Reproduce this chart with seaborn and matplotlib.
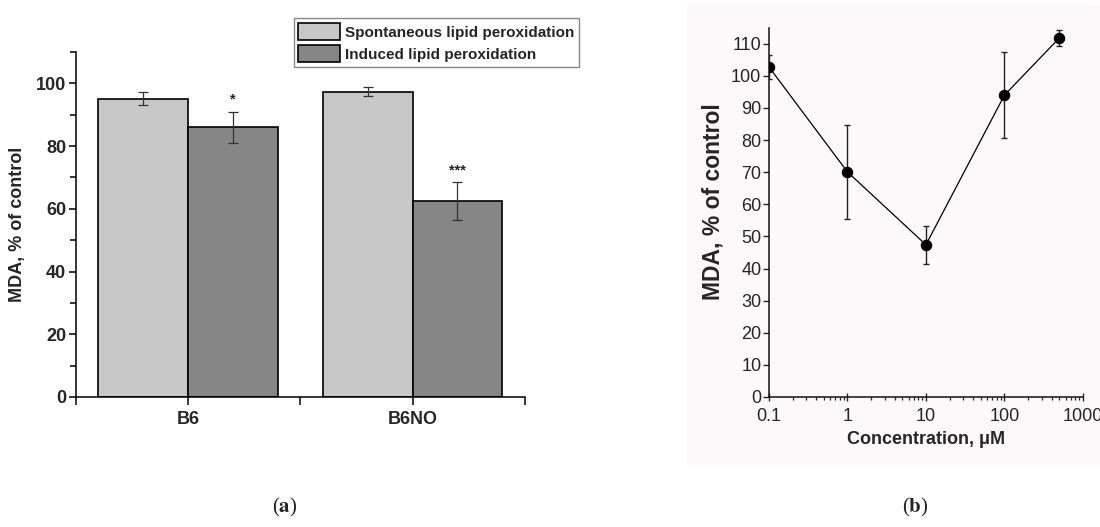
import matplotlib
matplotlib.use('Agg')
import matplotlib.pyplot as plt
from matplotlib.patches import Rectangle
from matplotlib.ticker import MultipleLocator, FixedLocator, LogLocator, NullFormatter
import seaborn as sns
import pandas as pd

# ---- data panel (a) ----
compounds = ['B6', 'B6NO']
conditions = ['Spontaneous lipid peroxidation', 'Induced lipid peroxidation']
spont_mean = [95.1, 97.4]
spont_err = [2.0, 1.3]
induced_mean = [86.0, 62.4]
induced_err = [5.0, 6.0]
signif = ['*', '***']

# ---- data panel (b) ----
conc = [0.1, 1, 10, 100, 500]
mda = [102.8, 70.1, 47.4, 94.0, 111.8]
mda_err = [3.8, 14.7, 6.0, 13.3, 2.5]
conc_ticks = [0.1, 1, 10, 100, 1000]
conc_labels = ['0.1', '1', '10', '100', '1000']

sns.set_theme(style='ticks')
plt.rcParams['font.family'] = ['Liberation Sans', 'DejaVu Sans']
plt.rcParams['mathtext.fontset'] = 'stix'

fig = plt.figure(figsize=(11, 5.27), dpi=100)
bg = '#fbf9f9'
fig.patches.append(Rectangle((0.6245, 0.1176), 0.3755, 0.873, transform=fig.transFigure,
                             facecolor=bg, edgecolor='none', zorder=-5))

# ================= panel (a) =================
ax1 = fig.add_axes([0.069, 0.2467, 0.408, 0.6546])
df = pd.DataFrame({
    'compound': compounds * 2,
    'condition': [conditions[0]] * len(compounds) + [conditions[1]] * len(compounds),
    'value': spont_mean + induced_mean,
})
sns.barplot(data=df, x='compound', y='value', hue='condition', order=compounds,
            hue_order=conditions, palette=['#c8c8c8', '#868686'], edgecolor='black',
            linewidth=1.2, errorbar=None, width=0.8, saturation=1, ax=ax1)

for cont, errs in zip(ax1.containers, [spont_err, induced_err]):
    for bar, e in zip(cont, errs):
        cx = bar.get_x() + bar.get_width() / 2
        h = bar.get_height()
        ax1.errorbar(cx, h, yerr=e, fmt='none', ecolor='#333333', elinewidth=0.9,
                     capsize=3.5, capthick=0.9, zorder=5)

for bar, e, s in zip(ax1.containers[1], induced_err, signif):
    cx = bar.get_x() + bar.get_width() / 2
    ax1.text(cx, bar.get_height() + e + 1.6, s, ha='center', va='bottom',
             fontsize=10.5, fontweight='bold', color='#222222')

ax1.set_xlim(-0.5, 1.5)
ax1.set_ylim(0, 110)
ax1.yaxis.set_major_locator(MultipleLocator(20))
ax1.yaxis.set_minor_locator(MultipleLocator(10))
ax1.xaxis.set_minor_locator(FixedLocator([-0.5, 0.5, 1.5]))
for sp in ['top', 'right']:
    ax1.spines[sp].set_visible(False)
for sp in ['left', 'bottom']:
    ax1.spines[sp].set_linewidth(1.1)
    ax1.spines[sp].set_color('black')
ax1.tick_params(axis='both', which='both', direction='out', width=1.1, color='black')
ax1.tick_params(axis='y', which='major', length=5, labelsize=13, pad=2)
ax1.tick_params(axis='y', which='minor', length=4)
ax1.tick_params(axis='x', which='both', length=6, labelsize=13, pad=4)
for lab in ax1.get_xticklabels() + ax1.get_yticklabels():
    lab.set_fontweight('bold')
ax1.set_xlabel('')
ax1.set_ylabel('MDA, % of control', fontsize=13, fontweight='bold', labelpad=7)

handles, labels = ax1.get_legend_handles_labels()
leg = ax1.legend(handles, labels, loc='upper left', bbox_to_anchor=(0.267, 0.9658),
                 bbox_transform=fig.transFigure, frameon=True, fancybox=False,
                 edgecolor='#888888', framealpha=1, prop={'weight': 'bold', 'size': 11},
                 handlelength=2.75, handleheight=1.4, borderpad=0.3, labelspacing=0.3,
                 handletextpad=0.3, borderaxespad=0)
leg.get_frame().set_linewidth(1.0)

# ================= panel (b) =================
ax2 = fig.add_axes([0.699, 0.2467, 0.2855, 0.7007])
ax2.set_facecolor(bg)
ax2.set_xscale('log')
sns.lineplot(x=conc, y=mda, marker='o', color='black', markersize=7.5, linewidth=0.9,
             markeredgecolor='black', ax=ax2, zorder=4)
ax2.errorbar(conc, mda, yerr=mda_err, fmt='none', ecolor='#222222', elinewidth=1,
             capsize=2.5, capthick=1, zorder=3)
ax2.set_xlim(0.1, 1000)
ax2.set_ylim(0, 115)
ax2.set_xticks(conc_ticks)
ax2.set_xticklabels(conc_labels)
ax2.xaxis.set_minor_locator(LogLocator(base=10, subs=range(2, 10)))
ax2.xaxis.set_minor_formatter(NullFormatter())
ax2.yaxis.set_major_locator(MultipleLocator(10))
for sp in ['top', 'right']:
    ax2.spines[sp].set_visible(False)
for sp in ['left', 'bottom']:
    ax2.spines[sp].set_linewidth(1.1)
    ax2.spines[sp].set_color('#111111')
ax2.tick_params(axis='y', which='major', direction='out', length=4, width=1, labelsize=13, pad=1.5)
ax2.tick_params(axis='x', which='major', direction='inout', length=6, width=1, labelsize=13, pad=5)
ax2.tick_params(axis='x', which='minor', direction='out', length=2.5, width=0.9)
ax2.set_xlabel('Concentration, μM', fontsize=13, fontweight='bold', labelpad=4)
ax2.set_ylabel('MDA, % of control', fontsize=16.5, fontweight='bold')
ax2.yaxis.set_label_coords(-0.14, 0.528)

# panel letters
fig.text(285 / 1100, 1 - 507 / 527, r'($\mathbf{a}$)', ha='center', va='center',
         fontsize=15, family=['Liberation Serif', 'DejaVu Serif'])
fig.text(915 / 1100, 1 - 507 / 527, r'($\mathbf{b}$)', ha='center', va='center',
         fontsize=15, family=['Liberation Serif', 'DejaVu Serif'])

fig.savefig('out.png', dpi=100)
